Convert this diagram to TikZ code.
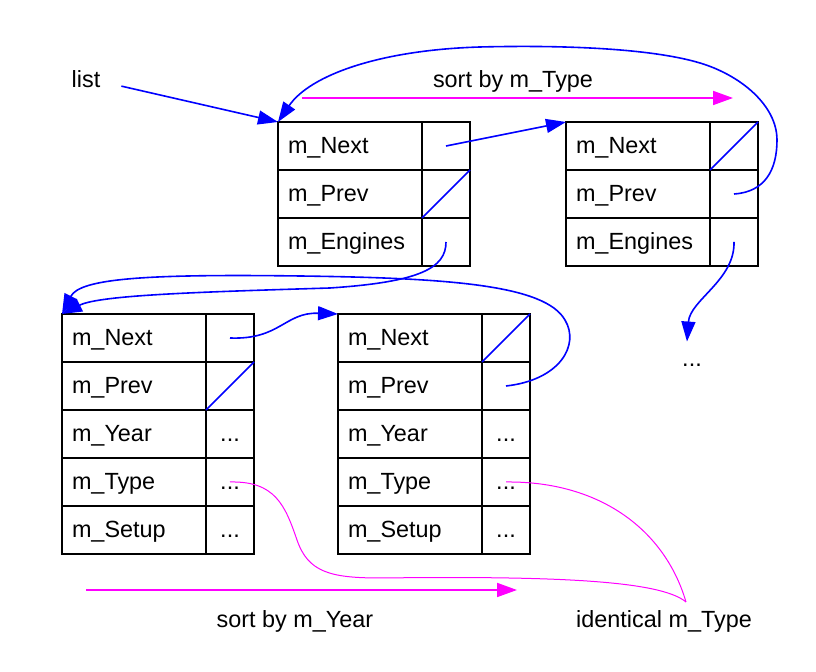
\documentclass[tikz,border=0pt]{standalone}
\usepackage{fontspec}
\setmainfont{Liberation Sans}
\usetikzlibrary{arrows.meta}
\definecolor{sortpink}{RGB}{255,0,255}
\definecolor{ptrblue}{RGB}{0,0,255}
\tikzset{field/.style={draw,line width=1pt,outer sep=0pt,minimum width=72pt,minimum height=24pt,text width=62pt,inner xsep=5pt,align=left,text height=0.72em,text depth=0pt},
         ptrcell/.style={draw,line width=1pt,outer sep=0pt,minimum width=24pt,minimum height=24pt,inner sep=0pt,text height=0.72em,text depth=0pt},
         nullptr/.style={ptrblue,line width=0.8pt},
         ptrlink/.style={ptrblue,line width=0.8pt,-{Triangle[length=10pt,width=7pt]}},
         sortarrow/.style={sortpink,line width=0.9pt,-{Triangle[length=10pt,width=7pt]}},
         sameline/.style={sortpink,line width=0.5pt}}

\begin{document}
\begin{tikzpicture}[x=0.5pt,y=-0.5pt,font=\fontsize{11.7}{14}\selectfont]
                \useasboundingbox (0,0) rectangle (816,672);
                % the two cars
                \node (aNext) [field] at (350,146) {m\_Next};
                \node (aNextP) [ptrcell] at (446,146) {};
                \node (aPrev) [field] at (350,194) {m\_Prev};
                \node (aPrevP) [ptrcell] at (446,194) {};
                \node (aEng) [field] at (350,242) {m\_Engines};
                \node (aEngP) [ptrcell] at (446,242) {};
                \node (bNext) [field] at (638,146) {m\_Next};
                \node (bNextP) [ptrcell] at (734,146) {};
                \node (bPrev) [field] at (638,194) {m\_Prev};
                \node (bPrevP) [ptrcell] at (734,194) {};
                \node (bEng) [field] at (638,242) {m\_Engines};
                \node (bEngP) [ptrcell] at (734,242) {};
                % the two engines
                \node (cNext) [field] at (134,338) {m\_Next};
                \node (cNextP) [ptrcell] at (230,338) {};
                \node (cPrev) [field] at (134,386) {m\_Prev};
                \node (cPrevP) [ptrcell] at (230,386) {};
                \node (cYear) [field] at (134,434) {m\_Year};
                \node (cYearP) [ptrcell] at (230,434) {...};
                \node (cType) [field] at (134,482) {m\_Type};
                \node (cTypeP) [ptrcell] at (230,482) {...};
                \node (cSetup) [field] at (134,530) {m\_Setup};
                \node (cSetupP) [ptrcell] at (230,530) {...};
                \node (dNext) [field] at (410,338) {m\_Next};
                \node (dNextP) [ptrcell] at (506,338) {};
                \node (dPrev) [field] at (410,386) {m\_Prev};
                \node (dPrevP) [ptrcell] at (506,386) {};
                \node (dYear) [field] at (410,434) {m\_Year};
                \node (dYearP) [ptrcell] at (506,434) {...};
                \node (dType) [field] at (410,482) {m\_Type};
                \node (dTypeP) [ptrcell] at (506,482) {...};
                \node (dSetup) [field] at (410,530) {m\_Setup};
                \node (dSetupP) [ptrcell] at (506,530) {...};
                % labels
                \node (list) [anchor=base] at (86,88) {list};
                \node (dots) [anchor=base,text height=0.72em] at (692,367) {...};
                \node (typeSortLabel) [anchor=base] at (513,88) {sort by m\_Type};
                \node (yearSortLabel) [anchor=base] at (295,628) {sort by m\_Year};
                \node (sameType) [anchor=base] at (664,628) {identical m\_Type};
                \coordinate (typeSortFrom) at (302,98);
                \coordinate (typeSortTo) at (733,98);
                \coordinate (yearSortFrom) at (86,590);
                \coordinate (yearSortTo) at (517,590);
                \coordinate (sameTypeTip) at (686,602);
                % null pointers
                \draw[nullptr] (aPrevP.south west) -- (aPrevP.north east);
                \draw[nullptr] (bNextP.south west) -- (bNextP.north east);
                \draw[nullptr] (cPrevP.south west) -- (cPrevP.north east);
                \draw[nullptr] (dNextP.south west) -- (dNextP.north east);
                % links
                \draw[ptrlink] ([xshift=7pt,yshift=-3.25pt]list.east) -- (aNext.north west);
                \draw[ptrlink] (aNextP.center) -- (bNext.north west);
                \draw[ptrlink] (bPrevP.center) .. controls (765,192) and (777,170) .. (777,140)
                    .. controls (777,105) and (740,75) .. (700,63)
                    .. controls (650,48) and (560,45) .. (480,47)
                    .. controls (380,50) and (310,75) .. (aNext.north west);
                \draw[ptrlink] (bEngP.center) .. controls (735,280) and (690,300) .. ([xshift=-2.5pt,yshift=2pt]dots.north);
                \draw[ptrlink] (aEngP.center) .. controls (446,268) and (420,282) .. (330,288)
                    .. controls (200,292) and (100,295) .. (cNext.north west);
                \draw[ptrlink] (dPrevP.center) .. controls (560,380) and (580,345) .. (565,320)
                    .. controls (545,285) and (450,278) .. (300,276)
                    .. controls (150,274) and (80,278) .. (cNext.north west);
                \draw[ptrlink] (cNextP.center) .. controls (280,340) and (285,312) .. (dNext.north west);
                % sorting
                \draw[sortarrow] (typeSortFrom) -- (typeSortTo);
                \draw[sortarrow] (yearSortFrom) -- (yearSortTo);
                \draw[sameline] (cTypeP.center) .. controls (275,481) and (285,505) .. (297,540)
                    .. controls (308,572) and (330,578) .. (380,578)
                    .. controls (550,576) and (660,580) .. (sameTypeTip);
                \draw[sameline] (dTypeP.center) .. controls (600,481) and (665,530) .. (sameTypeTip);
            \end{tikzpicture}
\end{document}
